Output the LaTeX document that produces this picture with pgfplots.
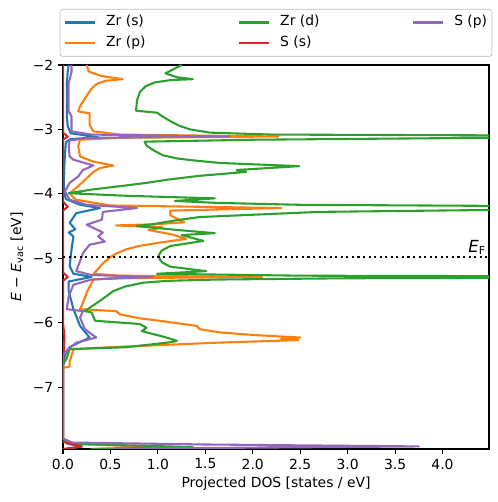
\documentclass[border=0pt]{standalone}
\usepackage{fontspec}
\setmainfont{DejaVu Sans}
\usepackage{pgfplots}
\pgfplotsset{compat=1.18}
\definecolor{c0}{HTML}{1F77B4}
\definecolor{c1}{HTML}{FF7F0E}
\definecolor{c2}{HTML}{2CA02C}
\definecolor{c3}{HTML}{D62728}
\definecolor{c4}{HTML}{9467BD}
\pgfplotsset{
  mylegimg/.style={legend image code/.code={\draw[##1] (0pt,0pt) -- (21.6pt,0pt);}},
}
\newcommand{\legA}[1]{\makebox[102.2pt][l]{\hspace{7.2pt}#1}}
\newcommand{\legB}[1]{\makebox[31.4pt][l]{\hspace{7.2pt}#1}}
\begin{document}
\begin{tikzpicture}
\useasboundingbox (0,0) rectangle (358.56pt,361.44pt);
\begin{axis}[
  at={(45.36pt,38.16pt)}, anchor=south west,
  width=306.72pt, height=276.48pt, scale only axis,
  xmin=0, xmax=4.49, ymin=-7.96, ymax=-2,
  axis line style={line width=0.8pt},
  tick align=outside, xtick pos=bottom, ytick pos=left,
  major tick length=3.5pt,
  every tick/.style={black, line width=0.8pt},
  xtick={0,0.5,1,1.5,2,2.5,3,3.5,4},
  xticklabels={0.0,0.5,1.0,1.5,2.0,2.5,3.0,3.5,4.0},
  ytick={-7,-6,-5,-4,-3,-2},
  yticklabels={−7,−6,−5,−4,−3,−2},
  tick label style={font=\fontsize{10}{12}\selectfont},
  xlabel={Projected DOS [states / eV]},
  ylabel={\textit{E} − \textit{E}\textsubscript{vac} [eV]},
  label style={font=\fontsize{10}{12}\selectfont},
  xlabel style={at={(axis description cs:0.5,-0.0911)}, anchor=center},
  ylabel style={at={(axis description cs:-0.108,0.5)}, anchor=center},
  legend columns=3,
  legend style={at={(axis description cs:0.5,1.021)}, anchor=south,
    draw=black!18, line width=0.8pt, rounded corners=2pt,
    inner xsep=2.9pt, inner ysep=4.4pt,
    nodes={inner sep=0pt, text height=7.5pt, text depth=2.5pt},
    column sep=0pt, row sep=5pt,
    font=\fontsize{10}{12}\selectfont},
  legend cell align=left,
  every axis plot/.append style={line width=1.5pt, line join=round},
]
\addlegendimage{c0, line width=1.5pt, mylegimg}\addlegendentry{\legA{Zr (s)}}
\addlegendimage{c2, line width=1.5pt, mylegimg}\addlegendentry{\legA{Zr (d)}}
\addlegendimage{c4, line width=1.5pt, mylegimg}\addlegendentry{\legB{S (p)}}
\addlegendimage{c1, line width=1.5pt, mylegimg}\addlegendentry{\legA{Zr (p)}}
\addlegendimage{c3, line width=1.5pt, mylegimg}\addlegendentry{\legA{S (s)}}

% Zr (s)
\addplot[c0, forget plot] coordinates {
(0.06,-2.0) (0.05,-2.1) (0.04,-2.3) (0.04,-2.6) (0.04,-2.8) (0.05,-2.95) (0.08,-3.06)
(0.37,-3.12) (0.08,-3.15) (0.03,-3.2) (0.02,-3.4) (0.01,-3.7) (0.01,-3.95) (0.03,-4.08)
(0.18,-4.17) (0.39,-4.22) (0.14,-4.30) (0.07,-4.45) (0.13,-4.55) (0.06,-4.60) (0.11,-4.66)
(0.09,-4.86) (0.07,-5.12) (0.11,-5.24) (0.30,-5.29) (0.06,-5.36) (0.06,-5.51) (0.11,-5.79)
(0.18,-6.05) (0.28,-6.23) (0.18,-6.30) (0.07,-6.38) (0.02,-6.5) (0.0,-6.7) (0.0,-7.8)
(0.05,-7.88) (0.2,-7.92) (0.05,-7.96)
};
% Zr (p)
\addplot[c1, forget plot] coordinates {
(0.25,-2.0) (0.27,-2.10) (0.40,-2.17) (0.63,-2.22) (0.45,-2.245) (0.36,-2.29) (0.31,-2.35)
(0.28,-2.41) (0.24,-2.50) (0.20,-2.59) (0.17,-2.67)
(0.16,-2.72) (0.28,-2.75) (0.28,-2.93) (0.32,-3.03) (0.6,-3.08) (2.27,-3.11) (0.6,-3.13)
(0.18,-3.16) (0.16,-3.26) (0.18,-3.42) (0.32,-3.50) (0.53,-3.56) (0.39,-3.60) (0.32,-3.66) (0.27,-3.73)
(0.16,-3.88) (0.07,-3.99) (0.13,-4.09) (0.5,-4.18) (2.30,-4.22) (1.13,-4.26) (1.13,-4.33)
(1.18,-4.37) (1.28,-4.44) (1.0,-4.47) (0.56,-4.49) (1.05,-4.52) (0.9,-4.56) (1.15,-4.63)
(1.30,-4.70) (1.0,-4.76) (0.80,-4.81) (0.67,-4.86) (0.57,-4.92) (0.50,-4.98) (0.42,-5.08) (0.36,-5.18) (0.32,-5.24)
(0.6,-5.27) (2.1,-5.29) (0.5,-5.31) (0.32,-5.33) (0.25,-5.53) (0.21,-5.69) (0.18,-5.79)
(0.56,-5.82) (0.60,-5.87) (0.80,-5.93) (1.02,-5.97) (1.41,-6.05) (1.44,-6.10) (1.65,-6.15) (2.0,-6.19) (2.5,-6.23)
(2.3,-6.25) (2.48,-6.27) (1.62,-6.31) (0.5,-6.38) (0.11,-6.41) (0.07,-6.60) (0.07,-6.68)
(0.0,-6.7) (0.0,-7.8) (0.1,-7.88) (0.98,-7.93) (0.3,-7.96)
};
% Zr (d)
\addplot[c2, forget plot] coordinates {
(1.25,-2.0) (1.08,-2.13) (1.2,-2.19) (1.37,-2.22) (1.13,-2.235) (0.97,-2.27) (0.87,-2.33)
(0.81,-2.42) (0.78,-2.55) (0.77,-2.71) (0.99,-2.74) (1.05,-2.80) (1.13,-2.87) (1.22,-2.94)
(1.34,-3.00) (1.55,-3.05) (2.2,-3.08) (8,-3.11)
(4.5,-3.13) (2.0,-3.16) (0.86,-3.19) (0.88,-3.25) (0.95,-3.32) (1.05,-3.40) (1.2,-3.45)
(1.37,-3.48) (1.65,-3.52) (2.49,-3.57)
(1.83,-3.63) (1.93,-3.66) (1.44,-3.72) (1.1,-3.78) (0.88,-3.83) (0.55,-3.89) (0.32,-3.93) (0.06,-3.99) (0.67,-4.03)
(1.60,-4.07) (1.18,-4.11) (1.62,-4.14) (2.5,-4.17) (8,-4.215) (4.5,-4.25) (2.7,-4.28)
(1.44,-4.36) (1.15,-4.42) (0.95,-4.47) (0.78,-4.50) (1.2,-4.56) (1.6,-4.61) (1.25,-4.64)
(1.48,-4.73) (1.13,-4.81) (1.04,-4.88) (1.01,-4.95) (1.02,-5.02) (1.05,-5.07) (1.13,-5.13) (1.51,-5.20) (0.99,-5.24)
(2.5,-5.27) (8,-5.29) (3,-5.31) (1.62,-5.33) (1.1,-5.35) (0.84,-5.38) (0.65,-5.44) (0.53,-5.51) (0.39,-5.66)
(0.23,-5.82) (0.30,-5.84) (0.34,-5.97) (0.81,-6.02) (0.88,-6.08) (0.83,-6.13) (1.09,-6.23)
(1.2,-6.28) (1.15,-6.30) (0.67,-6.38) (0.07,-6.41) (0.04,-6.55) (0.0,-6.65) (0.0,-7.8)
(0.1,-7.88) (1.37,-7.93) (0.3,-7.96)
};
% S (s)
\addplot[c3, forget plot] coordinates {
(0.0,-2.0) (0.0,-3.05) (0.05,-3.11) (0.0,-3.16) (0.0,-4.12) (0.05,-4.20) (0.0,-4.26)
(0.0,-5.22) (0.05,-5.29) (0.0,-5.35) (0.0,-6.0) (0.015,-6.2) (0.01,-6.4) (0.0,-6.6)
(0.0,-7.85) (0.2,-7.92) (0.0,-7.96)
};
% S (p)
\addplot[c4, forget plot] coordinates {
(0.09,-2.0) (0.09,-2.11) (0.06,-2.28) (0.06,-2.72) (0.09,-2.80) (0.09,-3.03) (0.3,-3.08)
(1.75,-3.11) (0.3,-3.13) (0.07,-3.17) (0.06,-3.26) (0.07,-3.42) (0.11,-3.47) (0.32,-3.56)
(0.21,-3.63) (0.16,-3.73) (0.07,-3.83) (0.02,-3.96) (0.07,-4.09) (0.25,-4.17) (0.78,-4.22)
(0.42,-4.28) (0.41,-4.40) (0.25,-4.48) (0.35,-4.55) (0.42,-4.60) (0.37,-4.66) (0.44,-4.74)
(0.28,-4.79) (0.21,-4.92) (0.16,-5.12) (0.14,-5.20) (0.3,-5.26) (0.95,-5.29) (0.3,-5.33)
(0.11,-5.41) (0.06,-5.59) (0.04,-5.79) (0.21,-5.82) (0.18,-5.92) (0.23,-6.10) (0.35,-6.23)
(0.14,-6.31) (0.06,-6.40) (0.0,-6.5) (0.0,-7.8) (0.1,-7.86) (1.5,-7.89) (3.75,-7.92)
(1.0,-7.95) (0.5,-7.97)
};
% Fermi level
\addplot[black, line width=1.5pt, dash pattern=on 1.5pt off 2.5pt, forget plot] coordinates {(0,-4.98) (4.49,-4.98)};
\node[anchor=base east, inner sep=0pt, font=\fontsize{12}{14}\selectfont] at (axis cs:4.46,-4.91) {\textit{E}\textsubscript{F}};
\end{axis}
\end{tikzpicture}
\end{document}
